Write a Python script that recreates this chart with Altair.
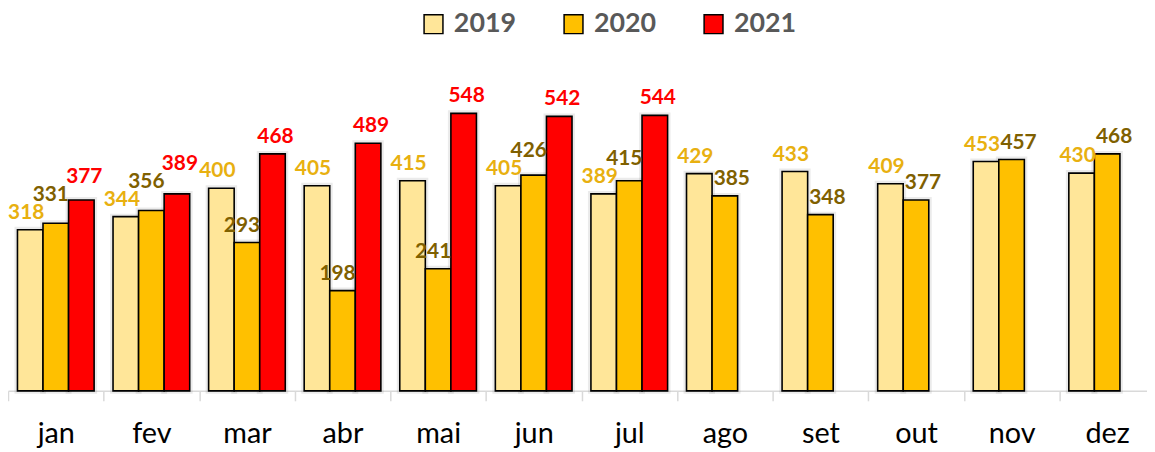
import altair as alt
import pandas as pd

months = ["jan", "fev", "mar", "abr", "mai", "jun", "jul", "ago", "set", "out", "nov", "dez"]
years = ["2019", "2020", "2021"]
v2019 = [318, 344, 400, 405, 415, 405, 389, 429, 433, 409, 453, 430]
v2020 = [331, 356, 293, 198, 241, 426, 415, 385, 348, 377, 457, 468]
v2021 = [377, 389, 468, 489, 548, 542, 544]

bar_colors = ["#FFE699", "#FFC000", "#FF0000"]
label_colors = {"2019": "#E8B010", "2020": "#7F6000", "2021": "#FF0000"}

Y_MAX = 600
PLOT_H = 306
PX_PER_UNIT = PLOT_H / Y_MAX
SLOT_PX = 25.7   # width of one bar slot
GAP_PX = 17      # label centre above bar top
SEP_PX = 18      # minimum vertical separation of neighbouring labels
LABEL_W = 36     # approximate label width


def label_dx(yr, has_2021, lower_than_prev):
    if yr == "2019":
        return -4
    if yr == "2021":
        return 3
    return -5 if has_2021 else 7


series_by_year = dict(zip(years, [v2019, v2020, v2021]))
rows = []
for i, m in enumerate(months):
    has_2021 = i < len(v2021)
    prev = None  # (px, value, dx)
    for yr in years:
        vals = series_by_year[yr]
        if i >= len(vals):
            continue
        v = vals[i]
        lower = prev is not None and v < prev[1]
        dx = label_dx(yr, has_2021, lower)
        px = v * PX_PER_UNIT + GAP_PX
        if prev is not None:
            centre_dist = SLOT_PX + dx - prev[2]
            if centre_dist < LABEL_W and abs(px - prev[0]) < SEP_PX:
                px = prev[0] - SEP_PX if lower else prev[0] + SEP_PX
        prev = (px, v, dx)
        rows.append({"mes": m, "ano": yr, "valor": v, "ly": px / PX_PER_UNIT, "dx": dx})
df = pd.DataFrame(rows)

FONT = "Lato"

x_enc = alt.X("mes:N", sort=months, title=None,
              scale=alt.Scale(domain=months, range=[0, 1155], paddingInner=0, paddingOuter=0),
              axis=alt.Axis(labelFont=FONT, labelFontSize=29, labelColor="#000000",
                            labelAngle=0, labelBaseline="alphabetic", labelPadding=42,
                            tickBand="extent", tickSize=10, tickColor="#D9D9D9", tickWidth=1.5,
                            domainColor="#D9D9D9", domainWidth=1.5, grid=False))
xo_enc = alt.XOffset("ano:N", sort=years,
                     scale=alt.Scale(domain=years, paddingInner=0, paddingOuter=0.37))
y_scale = alt.Scale(domain=[0, Y_MAX], nice=False, zero=True)
y_enc = alt.Y("valor:Q", scale=y_scale, axis=None)

base = alt.Chart(df)

shadow = base.mark_bar(fill=None, stroke="#000000", strokeWidth=6, strokeOpacity=0.08).encode(
    x=x_enc, xOffset=xo_enc, y=y_enc)

bars = base.mark_bar(stroke="#000000", strokeWidth=1.6).encode(
    x=x_enc, xOffset=xo_enc, y=y_enc,
    color=alt.Color("ano:N", sort=years,
                    scale=alt.Scale(domain=years, range=bar_colors),
                    legend=alt.Legend(title=None, orient="none", direction="horizontal",
                                      legendX=415, legendY=-77, padding=0,
                                      symbolType="square", symbolSize=361,
                                      symbolStrokeColor="#000000", symbolStrokeWidth=1.5,
                                      symbolOpacity=1, labelLimit=300,
                                      labelFont=FONT, labelFontSize=27, labelFontWeight="bold",
                                      labelColor="#595959", labelOffset=7, columnPadding=44)))

label_layers = []
for yr in years:
    for d in sorted(df.loc[df["ano"] == yr, "dx"].unique()):
        label_layers.append(
            base.transform_filter((alt.datum.ano == yr) & (alt.datum.dx == int(d))).mark_text(
                font=FONT, fontSize=21, fontWeight="bold", baseline="middle",
                dx=int(d), color=label_colors[yr]).encode(
                x=x_enc, xOffset=xo_enc,
                y=alt.Y("ly:Q", scale=y_scale, axis=None),
                text=alt.Text("valor:Q"))
        )

chart = alt.layer(shadow, bars, *label_layers).properties(
    width=1147, height=PLOT_H,
    autosize=alt.AutoSizeParams(type="none"),
    padding={"top": 78, "left": 0, "right": 0, "bottom": 60},
).configure_view(stroke=None)

chart.save("out.html", embed_options={"renderer": "svg", "actions": False})
